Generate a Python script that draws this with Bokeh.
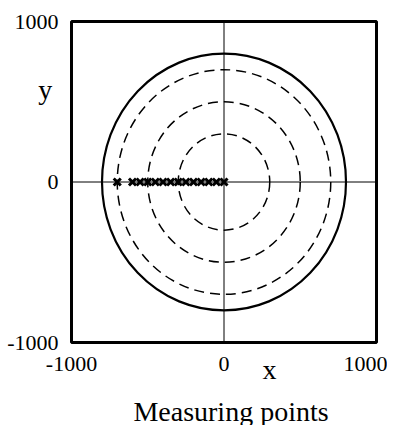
from bokeh.plotting import figure
from bokeh.models import Range1d, FixedTicker, Span, Title
from bokeh.embed import file_html
from bokeh.resources import INLINE

# data
point_x = [-700, -600, -550, -500, -450, -400, -350, -300, -250, -200, -150, -100, -50, 0]
point_y = [0] * len(point_x)
outer_radius = [800]
dashed_radii = [700, 500, 300]
ticks = [-1000, 0, 1000]
tick_labels = ["-1000", "0", "1000"]

FONT = "Liberation Serif"
NB = "\u00a0"

p = figure(frame_width=305, frame_height=321, output_backend="svg", toolbar_location=None,
           x_range=Range1d(-1000, 1000), y_range=Range1d(-1000, 1000),
           min_border_left=71, min_border_right=11, min_border_top=21, min_border_bottom=0)
p.background_fill_color = "white"
p.border_fill_color = "white"
p.outline_line_color = "black"
p.outline_line_width = 3
p.outline_line_alpha = 1.0
p.grid.visible = False

for ax in (p.xaxis, p.yaxis):
    ax.ticker = FixedTicker(ticks=ticks)
    ax.major_label_overrides = {t: s for t, s in zip(ticks, tick_labels)}
    ax.axis_line_color = None
    ax.major_tick_line_color = None
    ax.minor_tick_line_color = None
    ax.major_label_text_font = FONT
    ax.major_label_text_font_size = "22px"
    ax.major_label_text_color = "black"
    ax.axis_label_text_font = FONT
    ax.axis_label_text_font_size = "28px"
    ax.axis_label_text_font_style = "normal"
    ax.axis_label_text_color = "black"
p.xaxis.major_label_standoff = 8
p.yaxis.major_label_standoff = 7

p.xaxis.axis_label = NB * 13 + "x"
p.xaxis.axis_label_standoff = -20

p.yaxis.axis_label = "y" + ("\n" + NB) * 5
p.yaxis.axis_label_orientation = "horizontal"
p.yaxis.axis_label_text_line_height = 1.2
p.yaxis.axis_label_standoff = -48

title = Title(text=NB * 2 + "Measuring points", align="center", standoff=12,
              text_font=FONT, text_font_size="28px", text_font_style="normal",
              text_color="black")
p.add_layout(title, "below")

p.add_layout(Span(location=0, dimension="height", line_color="black", line_width=1))
p.add_layout(Span(location=0, dimension="width", line_color="black", line_width=1))

p.ellipse(x=[0] * len(dashed_radii), y=[0] * len(dashed_radii),
          width=[2 * r for r in dashed_radii], height=[2 * r for r in dashed_radii],
          fill_color=None, line_color="black", line_width=1.5, line_dash="10 6")
p.ellipse(x=[0], y=[0], width=[2 * r for r in outer_radius], height=[2 * r for r in outer_radius],
          fill_color=None, line_color="black", line_width=2.2)

p.scatter(point_x, point_y, marker="x", size=10, line_color="black", line_width=3)

open("out.html", "w").write(file_html(p, INLINE))
